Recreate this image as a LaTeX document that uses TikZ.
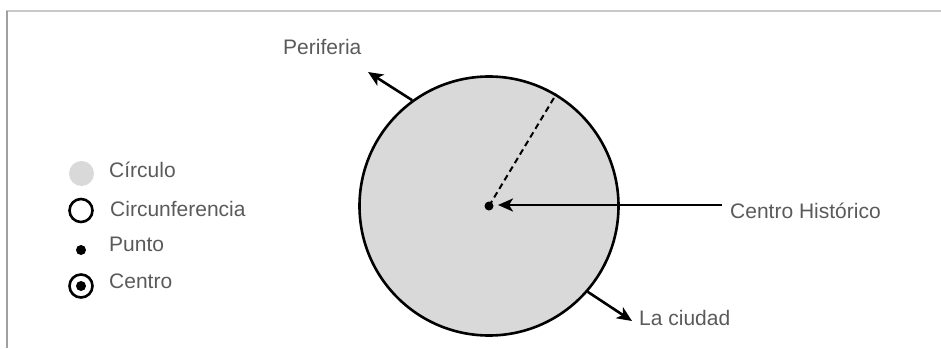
\documentclass[tikz,border=0pt]{standalone}
\usepackage{fontspec}
\setmainfont{Liberation Sans}
\usetikzlibrary{arrows.meta}
\definecolor{fillgray}{HTML}{D9D9D9}
\definecolor{txtgray}{HTML}{5A5A5A}
\definecolor{framegray}{HTML}{C8C8C8}
\definecolor{framegrayl}{HTML}{A0A0A0}
\tikzset{
  lbl/.style={anchor=base west, inner sep=0pt, text=txtgray, font=\fontsize{21}{25}\selectfont},
  conn/.style={line width=2.6pt, -{Stealth[length=15pt,width=13pt,inset=4pt]}},
  dotnode/.style={circle, fill=black, inner sep=0pt, minimum size=#1},
}
\begin{document}
\begin{tikzpicture}[x=1pt,y=-1pt]
\useasboundingbox (0,0) rectangle (941,348);
% frame
\draw[framegray, line width=2pt] (6,11) -- (941,11);
\draw[framegrayl, line width=1.6pt] (7,11) -- (7,348);

% main circle
\node (C) [circle, draw=black, fill=fillgray, line width=2.6pt, minimum size=259pt, inner sep=0pt] at (489,206) {};
\node (ctr) [dotnode=9pt] at (489,206) {};
\draw[line width=2pt, dash pattern=on 6pt off 4pt] (ctr.center) -- (C.59);

% labels
\node (per) [lbl] at (283,54) {Periferia};
\node (hist) [lbl] at (730,218) {Centro Histórico};
\node (ciu) [lbl] at (639,325) {La ciudad};

\coordinate (perTip) at (368,72);
\coordinate (ciuTip) at (632,321);
\coordinate (histTip) at (498,205);
\coordinate (histStart) at (722,205);

\draw[conn] (C.126) -- (perTip);
\draw[conn] (C.-41.6) -- (ciuTip);
\draw[conn] (histStart) -- (histTip);

% legend
\node (l1) [circle, fill=fillgray, inner sep=0pt, minimum size=25pt] at (81.5,173.5) {};
\node (l2) [circle, draw=black, line width=2.6pt, inner sep=0pt, minimum size=23pt] at (81,210.5) {};
\node (l3) [dotnode=10pt] at (81,250) {};
\node (l4) [circle, draw=black, line width=2.6pt, inner sep=0pt, minimum size=23pt] at (81,286) {};
\node (l4d) [dotnode=10pt] at (81,286) {};

\node (t1) [lbl] at (109,177) {Círculo};
\node (t2) [lbl] at (110,216) {Circunferencia};
\node (t3) [lbl] at (109,251) {Punto};
\node (t4) [lbl] at (109,288) {Centro};
\end{tikzpicture}
\end{document}
